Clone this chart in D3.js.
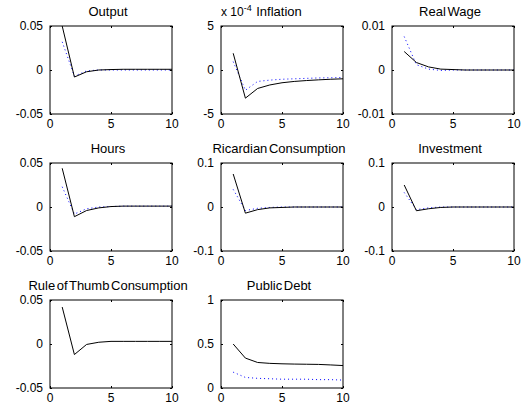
<!DOCTYPE html>
<html>
<head>
<meta charset="utf-8">
<script src="https://cdn.jsdelivr.net/npm/d3@7"></script>
<style>
  html, body { margin: 0; padding: 0; background: #fff; }
  svg { display: block; }
  text { font-family: "Liberation Sans", Arial, Helvetica, sans-serif; fill: #000; }
</style>
</head>
<body>
<svg id="fig" width="521" height="412"></svg>
<script>
// Impulse responses over ten quarters
const periods = [1, 2, 3, 4, 5, 6, 7, 8, 9, 10];

const titles = ["Output", "Inflation", "Real Wage", "Hours", "Ricardian Consumption",
                "Investment", "Rule of Thumb Consumption", "Public Debt"];

// Solid (black) responses
const outputSolid   = [0.050, -0.008, -0.002, 0.000, 0.0005, 0.0008, 0.0008, 0.0008, 0.0008, 0.0008];
const inflSolid     = [1.9e-4, -3.2e-4, -2.1e-4, -1.7e-4, -1.45e-4, -1.3e-4, -1.2e-4, -1.12e-4, -1.05e-4, -1.0e-4];
const wageSolid     = [0.0042, 0.0017, 0.0007, 0.0002, 0.0001, 0.0, 0.0, 0.0, 0.0, 0.0];
const hoursSolid    = [0.044, -0.011, -0.004, -0.001, 0.0005, 0.001, 0.001, 0.001, 0.001, 0.001];
const ricSolid      = [0.075, -0.014, -0.006, -0.002, -0.001, 0.0, 0.0, 0.0, 0.0, 0.0];
const invSolid      = [0.050, -0.0085, -0.004, -0.001, 0.0, 0.0, 0.0, 0.0, 0.0, 0.0];
const rotSolid      = [0.042, -0.012, -0.0005, 0.002, 0.003, 0.003, 0.003, 0.003, 0.003, 0.003];
const debtSolid     = [0.50, 0.34, 0.29, 0.28, 0.275, 0.272, 0.27, 0.268, 0.262, 0.255];

// Dotted (blue) responses
const outputDotted  = [0.032, -0.007, -0.001, 0.0, 0.0, 0.0, 0.0, 0.0, 0.0, 0.0];
const inflDotted    = [0.95e-4, -2.3e-4, -1.3e-4, -1.15e-4, -1.05e-4, -1.0e-4, -0.95e-4, -0.9e-4, -0.88e-4, -0.85e-4];
const wageDotted    = [0.0076, 0.0012, 0.0002, -0.0001, 0.0, 0.0, 0.0, 0.0, 0.0, 0.0];
const hoursDotted   = [0.023, -0.008, -0.002, 0.0, 0.0005, 0.001, 0.001, 0.001, 0.001, 0.001];
const ricDotted     = [0.040, -0.008, -0.003, -0.001, 0.0, 0.0, 0.0, 0.0, 0.0, 0.0];
const invDotted     = [0.033, -0.006, -0.002, 0.0, 0.0, 0.0, 0.0, 0.0, 0.0, 0.0];
const rotDotted     = null;
const debtDotted    = [0.18, 0.12, 0.11, 0.105, 0.10, 0.10, 0.10, 0.095, 0.095, 0.09];

// Axis limits and tick labels
const xTicks = [0, 5, 10];
const yLimits = [[-0.05, 0.05], [-5e-4, 5e-4], [-0.01, 0.01], [-0.05, 0.05], [-0.1, 0.1],
                 [-0.1, 0.1], [-0.05, 0.05], [0, 1]];
const yTickLabels = [["-0.05", "0", "0.05"], ["-5", "0", "5"], ["-0.01", "0", "0.01"],
                     ["-0.05", "0", "0.05"], ["-0.1", "0", "0.1"], ["-0.1", "0", "0.1"],
                     ["-0.05", "0", "0.05"], ["0", "0.5", "1"]];

const solidSeries  = [outputSolid, inflSolid, wageSolid, hoursSolid, ricSolid, invSolid, rotSolid, debtSolid];
const dottedSeries = [outputDotted, inflDotted, wageDotted, hoursDotted, ricDotted, invDotted, rotDotted, debtDotted];

// Grid of panels
const colLeft = [50, 221, 392];
const rowTop = [26, 163, 300];
const panelW = 122, panelH = 88;
const fontSize = 12;
const titleSize = 13;

const svg = d3.select("#fig");

titles.forEach((title, i) => {
  const r = Math.floor(i / 3), c = i % 3;
  const g = svg.append("g").attr("transform", `translate(${colLeft[c]},${rowTop[r]})`);

  const x = d3.scaleLinear().domain([0, 10]).range([0, panelW]);
  const lim = yLimits[i];
  const y = d3.scaleLinear().domain(lim).range([panelH, 0]);
  const yTicks = [lim[0], (lim[0] + lim[1]) / 2, lim[1]];

  g.append("clipPath").attr("id", "clip" + i)
    .append("rect").attr("width", panelW).attr("height", panelH);

  const line = d3.line().x((d, k) => x(periods[k])).y(d => y(d));
  const plot = g.append("g").attr("clip-path", `url(#clip${i})`);

  if (dottedSeries[i]) {
    plot.append("path").datum(dottedSeries[i])
      .attr("d", line).attr("fill", "none")
      .attr("stroke", "#0000ff").attr("stroke-width", 1)
      .attr("stroke-dasharray", "1,3");
  }
  plot.append("path").datum(solidSeries[i])
    .attr("d", line).attr("fill", "none")
    .attr("stroke", "#000").attr("stroke-width", 1);

  // Inward ticks on all four sides
  const tickLen = 2;
  const axB = d3.axisBottom(x).tickValues(xTicks).tickSizeInner(-tickLen).tickSizeOuter(0).tickFormat("");
  const axT = d3.axisTop(x).tickValues(xTicks).tickSizeInner(-tickLen).tickSizeOuter(0).tickFormat("");
  const axL = d3.axisLeft(y).tickValues(yTicks).tickSizeInner(-tickLen).tickSizeOuter(0).tickFormat("");
  const axR = d3.axisRight(y).tickValues(yTicks).tickSizeInner(-tickLen).tickSizeOuter(0).tickFormat("");
  [[axB, `translate(0,${panelH})`], [axT, null], [axL, null], [axR, `translate(${panelW},0)`]]
    .forEach(([ax, tr]) => {
      const a = g.append("g").call(ax);
      if (tr) a.attr("transform", tr);
      a.select(".domain").remove();
      a.selectAll("line").attr("stroke", "#000");
    });

  // Box
  g.append("rect").attr("width", panelW).attr("height", panelH)
    .attr("fill", "none").attr("stroke", "#000").attr("stroke-width", 1);

  // Tick labels
  g.selectAll(".xl").data(xTicks).enter().append("text")
    .attr("x", d => x(d)).attr("y", panelH + 14)
    .attr("text-anchor", "middle").attr("font-size", fontSize).text(d => d);
  g.selectAll(".yl").data(yTicks).enter().append("text")
    .attr("x", -7).attr("y", d => y(d)).attr("dy", "0.35em")
    .attr("text-anchor", "end").attr("font-size", fontSize)
    .text((d, k) => yTickLabels[i][k]);

  // Title
  g.append("text").attr("x", panelW / 2 - 3).attr("y", -10)
    .attr("text-anchor", "middle").attr("font-size", titleSize)
    .attr("word-spacing", -2).text(title);

  // Exponent marker for the inflation panel
  if (i === 1) {
    const t = g.append("text").attr("x", 0).attr("y", -10).attr("font-size", fontSize);
    t.append("tspan").text("x 10");
    t.append("tspan").attr("dy", -5).attr("font-size", 9).text("-4");
  }
});
</script>
</body>
</html>
